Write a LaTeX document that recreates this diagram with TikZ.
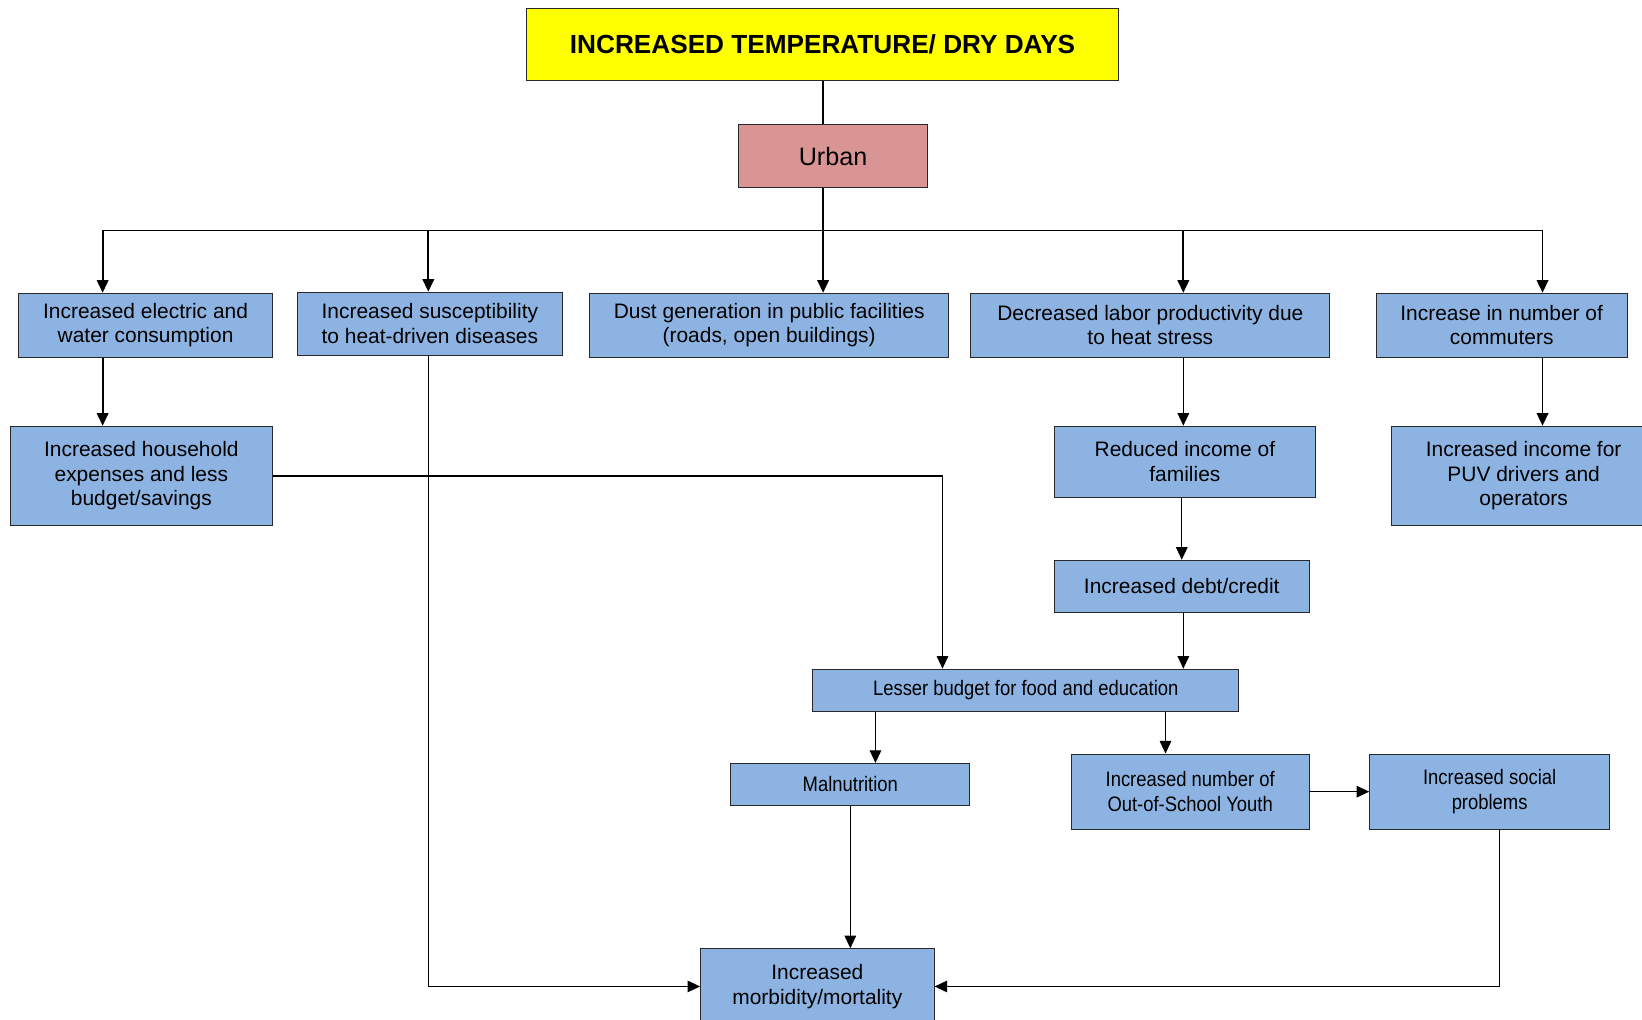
\documentclass[tikz,border=0pt]{standalone}
\usepackage{fontspec}
\setmainfont{Liberation Sans}
\newfontfamily\narrowfont[FakeStretch=0.88]{Liberation Sans}
\usetikzlibrary{arrows.meta}
\definecolor{boxblue}{RGB}{141,179,226}
\definecolor{urbanpink}{RGB}{217,149,148}
\definecolor{titleyellow}{RGB}{255,255,0}
\definecolor{edge}{RGB}{40,40,40}
\begin{document}
\begin{tikzpicture}[x=1pt,y=-1pt,
  box/.style={draw=edge,line width=0.9pt,fill=boxblue,rectangle,inner sep=0pt,
    align=center,font=\fontsize{20}{23.5}\selectfont},
  narrowbox/.style={box,font=\narrowfont\fontsize{20}{23.5}\selectfont},
  arr/.style={draw=black,line width=1.1pt,-{Triangle[length=12pt,width=11pt]}},
  busarr/.style={arr,line width=1.7pt},
  plain/.style={draw=black,line width=1.3pt}]
\clip (0,0) rectangle (1568,974);
\fill[white] (0,0) rectangle (1568,974);

% root and branch nodes
\node[box,fill=titleyellow,minimum width=565pt,minimum height=69pt,
  font=\bfseries\fontsize{25}{29}\selectfont] (title) at (785.5,42.5)
  {INCREASED TEMPERATURE/ DRY DAYS};
\node[box,fill=urbanpink,minimum width=181pt,minimum height=60pt,
  font=\fontsize{24}{28}\selectfont] (urban) at (795.5,149) {Urban};

% first level of impacts
\node[box,minimum width=242pt,minimum height=61pt] (b1) at (139,310.5)
  {Increased electric and\\water consumption};
\node[box,minimum width=253pt,minimum height=60pt] (b2) at (410.5,309)
  {Increased susceptibility\\to heat-driven diseases};
\node[box,minimum width=343pt,minimum height=61pt] (b3) at (734.5,310.5)
  {Dust generation in public facilities\\(roads, open buildings)};
\node[box,minimum width=343pt,minimum height=61pt] (b4) at (1098.5,310.5)
  {Decreased labor productivity due\\to heat stress};
\node[box,minimum width=240pt,minimum height=61pt] (b5) at (1434,310.5)
  {Increase in number of\\commuters};

% second level
\node[box,minimum width=250pt,minimum height=95pt] (b6) at (135,454.5)
  {Increased household\\expenses and less\\budget/savings};
\node[box,minimum width=249pt,minimum height=68pt] (b7) at (1131.5,441)
  {Reduced income of\\families};
\node[box,minimum width=252pt,minimum height=95pt] (b8) at (1455,454.5)
  {Increased income for\\PUV drivers and\\operators};
\node[box,minimum width=243pt,minimum height=50pt] (b9) at (1128.5,560)
  {Increased debt/credit};

% lower levels
\node[narrowbox,minimum width=407pt,minimum height=40pt] (b10) at (979.5,659)
  {Lesser budget for food and education};
\node[narrowbox,minimum width=228pt,minimum height=40pt] (b11) at (812,749)
  {Malnutrition};
\node[narrowbox,minimum width=227pt,minimum height=72pt] (b12) at (1136.5,756)
  {Increased number of\\Out-of-School Youth};
\node[narrowbox,minimum width=229pt,minimum height=72pt] (b13) at (1422.5,756)
  {Increased social\\problems};
\node[box,minimum width=223pt,minimum height=72pt] (b14) at (780.5,942)
  {Increased\\morbidity/mortality};

% distribution bus under the Urban node
\coordinate (d1) at (98,220);
\coordinate (d2) at (409,220);
\coordinate (d3) at (786,220);
\coordinate (d4) at (1130,220);
\coordinate (d5) at (1473,220);
\coordinate (k) at (900,0);
\coordinate (m1) at (836,0);
\coordinate (m2) at (1113,0);
\coordinate (s) at (1432,0);

\draw[plain] (d3 |- title.south) -- (d3 |- urban.north);
\draw[plain] (d3 |- urban.south) -- (d3);
\draw[plain] (d1) -- (d5);

\draw[busarr] (d1) -- (d1 |- b1.north);
\draw[busarr] (d2) -- (d2 |- b2.north);
\draw[busarr] (d3) -- (d3 |- b3.north);
\draw[busarr] (d4) -- (d4 |- b4.north);
\draw[busarr] (d5) -- (d5 |- b5.north);

\draw[busarr] (d1 |- b1.south) -- (d1 |- b6.north);
\draw[arr] (d4 |- b4.south) -- (d4 |- b7.north);
\draw[busarr] (d5 |- b5.south) -- (d5 |- b8.north);
\draw[arr] (b9.north |- b7.south) -- (b9.north);
\draw[arr] (d4 |- b9.south) -- (d4 |- b10.north);
\draw[arr] (b6.east) -| (k |- b10.north);
\draw[arr] (m1 |- b10.south) -- (m1 |- b11.north);
\draw[arr] (m2 |- b10.south) -- (m2 |- b12.north);
\draw[arr] (b12.east) -- (b13.west);
\draw[arr] (b11.south) -- (b11.south |- b14.north);
\draw[arr] (d2 |- b2.south) |- (b14.west);
\draw[arr] (s |- b13.south) |- (b14.east);
\end{tikzpicture}
\end{document}
